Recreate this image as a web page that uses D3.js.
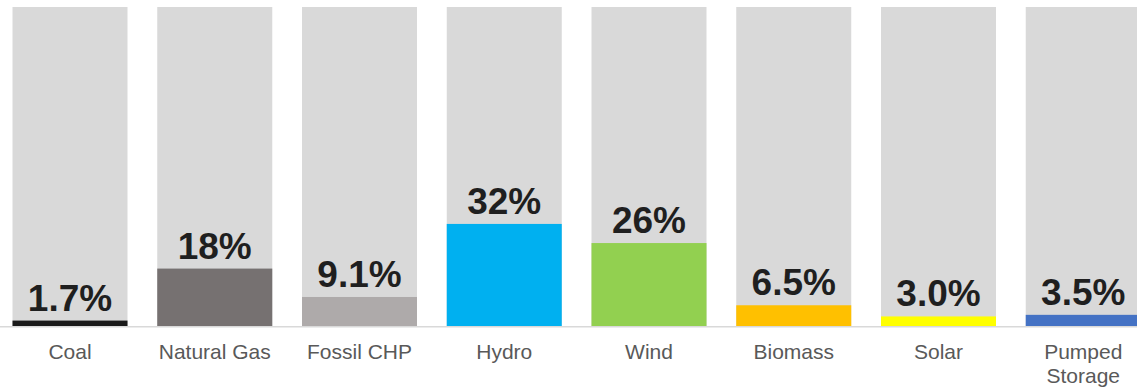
<!DOCTYPE html>
<html>
<head>
<meta charset="utf-8">
<script src="https://cdn.jsdelivr.net/npm/d3@7/dist/d3.min.js"></script>
<style>
  body { margin: 0; background: #fff; }
  svg { display: block; }
  .value { font: bold 37px Arial, "Liberation Sans", sans-serif; fill: #1f1f1f; text-anchor: middle; }
  .cat { font: 21px Arial, "Liberation Sans", sans-serif; fill: #595959; text-anchor: middle; }
</style>
</head>
<body>
<svg id="chart"></svg>
<script>
var categories = ["Coal", "Natural Gas", "Fossil CHP", "Hydro", "Wind", "Biomass", "Solar", "Pumped Storage"];
var shares = [1.7, 18, 9.1, 32, 26, 6.5, 3.0, 3.5];
var valueLabels = ["1.7%", "18%", "9.1%", "32%", "26%", "6.5%", "3.0%", "3.5%"];
var colors = ["#1a1a1a", "#767171", "#aeaaaa", "#00b0f0", "#92d050", "#ffc000", "#ffff00", "#4472c4"];
var maxShare = 100;

var width = 1137, height = 389;
var plotBase = 326, plotTop = 7;

var svg = d3.select("#chart")
  .attr("width", width)
  .attr("height", height);

var x = d3.scaleBand()
  .domain(categories)
  .range([0, 1153.25])
  .paddingInner(0.2055)
  .paddingOuter(0.0864);

var y = d3.scaleLinear()
  .domain([0, maxShare])
  .range([plotBase, plotTop]);

var data = categories.map(function (c, i) {
  return {name: c, value: shares[i], label: valueLabels[i], color: colors[i]};
});

// background (full height) bars
svg.selectAll("rect.bg")
  .data(data)
  .enter().append("rect")
  .attr("class", "bg")
  .attr("x", function (d) { return x(d.name); })
  .attr("y", y(maxShare))
  .attr("width", x.bandwidth())
  .attr("height", y(0) - y(maxShare))
  .attr("fill", "#d9d9d9");

// value bars
svg.selectAll("rect.bar")
  .data(data)
  .enter().append("rect")
  .attr("class", "bar")
  .attr("x", function (d) { return x(d.name); })
  .attr("y", function (d) { return y(d.value); })
  .attr("width", x.bandwidth())
  .attr("height", function (d) { return y(0) - y(d.value); })
  .attr("fill", function (d) { return d.color; });

// baseline
svg.append("line")
  .attr("x1", 0).attr("x2", width)
  .attr("y1", y(0) + 0.75).attr("y2", y(0) + 0.75)
  .attr("stroke", "#d9d9d9")
  .attr("stroke-width", 1.5);

// value labels
svg.selectAll("text.value")
  .data(data)
  .enter().append("text")
  .attr("class", "value")
  .attr("x", function (d) { return x(d.name) + x.bandwidth() / 2; })
  .attr("y", function (d) { return y(d.value) - 10; })
  .text(function (d) { return d.label; });

// category labels (wrapped on space for long names)
var cat = svg.selectAll("text.cat")
  .data(data)
  .enter().append("text")
  .attr("class", "cat")
  .attr("x", function (d) { return x(d.name) + x.bandwidth() / 2; })
  .attr("y", 359);

cat.each(function (d) {
  var t = d3.select(this);
  var lines = d.name === "Pumped Storage" ? d.name.split(" ") : [d.name];
  lines.forEach(function (l, i) {
    t.append("tspan")
      .attr("x", x(d.name) + x.bandwidth() / 2)
      .attr("dy", i === 0 ? 0 : 24)
      .text(l);
  });
});
</script>
</body>
</html>
